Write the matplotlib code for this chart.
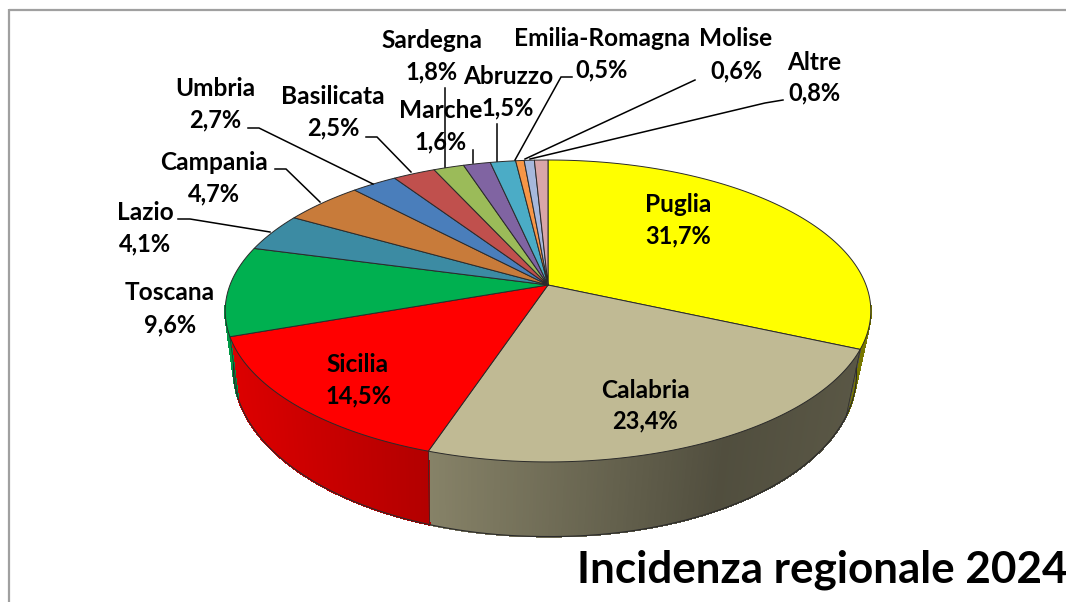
import numpy as np
import matplotlib
matplotlib.use("Agg")
import matplotlib.pyplot as plt
from matplotlib.collections import PolyCollection
from matplotlib.patches import Polygon

regions = ["Puglia", "Calabria", "Sicilia", "Toscana", "Lazio", "Campania", "Umbria",
           "Basilicata", "Sardegna", "Marche", "Abruzzo", "Emilia-Romagna", "Molise", "Altre"]
shares = [31.7, 23.4, 14.5, 9.6, 4.1, 4.7, 2.7, 2.5, 1.8, 1.6, 1.5, 0.5, 0.6, 0.8]
share_labels = ["31,7%", "23,4%", "14,5%", "9,6%", "4,1%", "4,7%", "2,7%",
                "2,5%", "1,8%", "1,6%", "1,5%", "0,5%", "0,6%", "0,8%"]
title_text = "Incidenza regionale 2024"

colors = ["#FFFF00", "#C0BA94", "#FF0000", "#00B050", "#3C8BA3", "#C87B3A", "#4A7EBB",
          "#C0504D", "#9BBB59", "#8064A2", "#4BACC6", "#F79646", "#A6B8DC", "#D9A6A8"]

# label anchors (pixels): name centre, value centre
name_pos = [(678, 204), (645, 390), (358, 364), (170, 293), (145, 212), (214, 162), (215, 88),
            (333, 96), (432, 40), (441, 110), (508, 76), (602, 38), (736, 39), (814, 62)]
value_pos = [(678, 236), (645, 421), (358, 396), (170, 325), (145, 244), (214, 194), (215, 120),
             (333, 128), (432, 72), (441, 142), (508, 108), (602, 70), (736, 71), (814, 93)]
leaders = [
    [(178, 219), (190, 219), (270, 232)],
    [(275, 169), (286, 169), (320, 202)],
    [(248, 128), (259, 128), (373, 184)],
    [(366, 137), (377, 137), (411, 172)],
    [(445, 88), (445, 167)],
    [(473, 150), (473, 163)],
    [(497, 124), (497, 161)],
    [(572, 77), (561, 77), (515, 160)],
    [(695, 80), (525, 159)],
    [(783, 100), (765, 103), (530, 159)],
]

CX, CY, A, B, K = 548.0, 285.0, 318.0, 146.5, 0.172


def top(theta, r=1.0):
    u, v = r * np.sin(theta), r * np.cos(theta)
    w = 1 + K * v
    return CX + A * u / w, CY - B * v / w


def bottom(theta):
    u, v = np.sin(theta), np.cos(theta)
    w = 1 + K * v
    return (CX - 3 + 0.965 * A * u / w,
            CY + 56 - 1.105 * B * v / w + 4 * np.maximum(u, 0))


plt.rcParams["font.family"] = ["Lato", "DejaVu Sans"]
fig = plt.figure(figsize=(10.66, 6.02), dpi=100)
ax = fig.add_axes([0, 0, 1, 1])
ax.set_xlim(0, 1066)
ax.set_ylim(602, 0)
ax.axis("off")

ax.plot([9, 1066], [9.5, 9.5], color="#a0a0a0", lw=1.6, solid_capstyle="butt")
ax.plot([8.5, 8.5], [9, 602], color="#a0a0a0", lw=1.6, solid_capstyle="butt")

edges = np.radians(np.concatenate([[0], np.cumsum(shares)]) * 3.6)
vis_lo, vis_hi = np.radians(98), np.radians(262)
EDGE = "#2a2a2a"


def shade(x):
    return np.interp(x, [225, 428, 720, 860], [0.87, 0.70, 0.42, 0.47])


polys, facecols = [], []
for i, col in enumerate(colors):
    lo, hi = max(edges[i], vis_lo), min(edges[i + 1], vis_hi)
    if hi <= lo:
        continue
    t = np.linspace(lo, hi, max(2, int(np.degrees(hi - lo) * 2)))
    base = np.array(matplotlib.colors.to_rgb(col))
    for a, b in zip(t[:-1], t[1:]):
        x1, y1 = top(a)
        x2, y2 = top(b)
        x3, y3 = bottom(b)
        x4, y4 = bottom(a)
        polys.append([(x1, y1), (x2, y2), (x3, y3), (x4, y4)])
        facecols.append(tuple(base * shade((x1 + x2 + x3 + x4) / 4)))
ax.add_collection(PolyCollection(polys, facecolors=facecols, edgecolors=facecols,
                                 linewidths=0.8, antialiased=False, zorder=2))

tb = np.linspace(vis_lo, vis_hi, 300)
ax.plot(*bottom(tb), color=EDGE, lw=0.8, zorder=3)
for e in edges:
    if vis_lo < e < vis_hi:
        x0, y0 = top(e)
        x1, y1 = bottom(e)
        ax.plot([x0, x1], [y0, y1], color=EDGE, lw=0.5, zorder=3)

for i, col in enumerate(colors):
    t = np.linspace(edges[i], edges[i + 1], max(3, int(np.degrees(edges[i + 1] - edges[i]))))
    xs, ys = top(t)
    pts = [(CX, CY)] + list(zip(xs, ys))
    ax.add_patch(Polygon(pts, closed=True, facecolor=col, edgecolor=EDGE, lw=0.7, zorder=4, joinstyle="round"))

for line in leaders:
    xs, ys = zip(*line)
    ax.plot(xs, ys, color="black", lw=1.1, zorder=5, solid_joinstyle="miter")

for name, val, np_, vp in zip(regions, share_labels, name_pos, value_pos):
    ax.text(np_[0], np_[1], name, ha="center", va="center", fontsize=17.6, fontweight="bold", color="black", zorder=6)
    ax.text(vp[0], vp[1], val, ha="center", va="center", fontsize=17, fontweight="bold", color="black", zorder=6)

ax.text(577, 570, title_text, ha="left", va="center", fontsize=31.7, fontweight="bold", color="black", zorder=6)

fig.savefig("out.png", dpi=100)
